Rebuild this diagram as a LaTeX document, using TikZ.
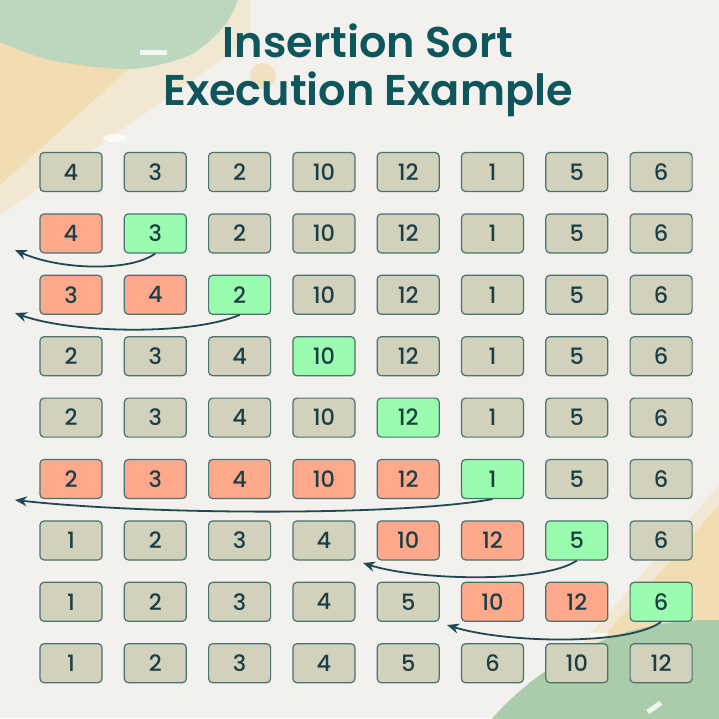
\documentclass[tikz,border=0pt]{standalone}
\usepackage{fontspec}
\setmainfont{Poppins}
\newfontfamily\titlefont{Poppins}[UprightFont=* SemiBold]
\newfontfamily\numfont{Poppins}[UprightFont=* Medium]
\usetikzlibrary{arrows.meta}
\definecolor{bgc}{HTML}{F2F1EE}
\definecolor{greenA}{HTML}{BDD7BF}
\definecolor{greenB}{HTML}{AACCAA}
\definecolor{yel}{HTML}{F2DCB0}
\definecolor{boxg}{HTML}{D2D1BC}
\definecolor{boxr}{HTML}{FFA98C}
\definecolor{boxn}{HTML}{99FCAE}
\definecolor{edgec}{HTML}{4A7272}
\definecolor{txt}{HTML}{1C3F46}
\definecolor{ttl}{HTML}{0F555C}
\definecolor{arr}{HTML}{1E4B52}
\tikzset{
  cell/.style={draw=edgec, line width=1.2pt, rounded corners=4pt, minimum width=62pt, minimum height=39pt, inner sep=0pt, text=txt, font=\numfont\fontsize{22.5}{22.5}\selectfont},
  cg/.style={cell, fill=boxg},
  cr/.style={cell, fill=boxr},
  cn/.style={cell, fill=boxn},
  mover/.style={draw=arr, line width=1.8pt, -{Stealth[length=12pt,width=10pt]}},
}
\begin{document}
\begin{tikzpicture}[x=1pt,y=-1pt]
\useasboundingbox (0,0) rectangle (719,718);
\fill[bgc] (0,0) rectangle (719,718);
% background decorations
\fill[yel, opacity=0.45] (0,0) -- (250,0) -- (250,40) -- (0,215) -- cycle;
\fill[yel, opacity=0.9] (0,0) -- (205,0) -- (0,185) -- cycle;
\fill[yel, opacity=0.75] (263,76) circle (13);
\fill[greenA] plot[smooth] coordinates {(-5,40) (50,60) (130,69) (190,55) (225,25) (240,-5)} -- (-5,-5) -- cycle;
\fill[white, opacity=0.8] (140,50) rectangle (167,55);
\fill[white, opacity=0.7] (115,138) ellipse [x radius=12, y radius=4];
\fill[yel, opacity=0.45] (719,485) -- (719,718) -- (540,718) -- (585,640) -- cycle;
\fill[yel, opacity=0.9] (719,505) -- (719,718) -- (570,718) -- (605,635) -- cycle;
\fill[greenB] (710,910) circle (290);
\fill[white, opacity=0.8] (590,633) rectangle (608,638);
\fill[white, opacity=0.8, rotate around={35:(654,707)}] (646,705) rectangle (662,710);
% title
\node[text=ttl, font=\titlefont\fontsize{43}{48}\selectfont, align=center] (title) at (368,70) {Insertion Sort\\Execution Example};
% grid
\def\xs{84.3}
\def\ys{61.4}
\foreach \row [count=\i] in {
 {g/4,g/3,g/2,g/10,g/12,g/1,g/5,g/6},
 {r/4,n/3,g/2,g/10,g/12,g/1,g/5,g/6},
 {r/3,r/4,n/2,g/10,g/12,g/1,g/5,g/6},
 {g/2,g/3,g/4,n/10,g/12,g/1,g/5,g/6},
 {g/2,g/3,g/4,g/10,n/12,g/1,g/5,g/6},
 {r/2,r/3,r/4,r/10,r/12,n/1,g/5,g/6},
 {g/1,g/2,g/3,g/4,r/10,r/12,n/5,g/6},
 {g/1,g/2,g/3,g/4,g/5,r/10,r/12,n/6},
 {g/1,g/2,g/3,g/4,g/5,g/6,g/10,g/12}}{
  \foreach \k/\v [count=\j] in \row {
    \node[c\k] (r\i c\j) at ({71+(\j-1)*\xs},{172+(\i-1)*\ys}) {\v};
  }
}
% arrow ends
\coordinate (e2) at (15,250);
\coordinate (e3) at (15,313);
\coordinate (e6) at (15,500);
\coordinate (e7) at (363,563);
\coordinate (e8) at (447,625);
\draw[mover] (r2c2.south) .. controls (130,272) and (60,270) .. (e2);
\draw[mover] (r3c3.south) .. controls (190,336) and (70,333) .. (e3);
\draw[mover] (r6c6.south) .. controls (400,516) and (150,515) .. (e6);
\draw[mover] (r7c7.south) .. controls (545,583) and (420,581) .. (e7);
\draw[mover] (r8c8.south) .. controls (628,646) and (505,643) .. (e8);
\end{tikzpicture}
\end{document}
